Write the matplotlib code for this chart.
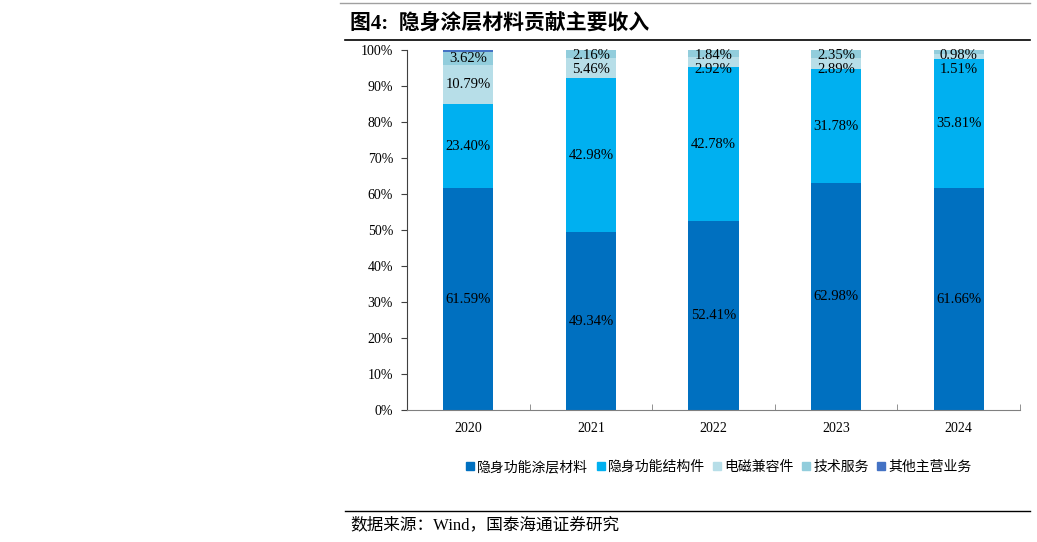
import matplotlib
matplotlib.use("Agg")
import matplotlib.pyplot as plt
from matplotlib.lines import Line2D
import numpy as np

# Data (share of revenue, %)
years = ["2020", "2021", "2022", "2023", "2024"]
series_names = ["隐身功能涂层材料", "隐身功能结构件", "电磁兼容件", "技术服务", "其他主营业务"]
coating = [61.59, 49.34, 52.41, 62.98, 61.66]
structure = [23.40, 42.98, 42.78, 31.78, 35.81]
emc_parts = [10.79, 5.46, 2.92, 2.89, 1.51]
tech_service = [3.62, 2.16, 1.84, 2.35, 0.98]
other = [0.60, 0.06, 0.05, 0.00, 0.04]
y_ticks = [0, 10, 20, 30, 40, 50, 60, 70, 80, 90, 100]

colors = ["#0070C0", "#00B0F0", "#B7DEE8", "#92CDDC", "#4472C4"]
serif = ["Liberation Serif", "Noto Sans CJK SC"]
cjk = ["Noto Sans CJK SC", "DejaVu Sans"]

fig = plt.figure(figsize=(10.37, 5.42), dpi=100)
ax = fig.add_axes([407 / 1037, 132 / 542, 613 / 1037, 360 / 542])

x = np.arange(len(years))
stack = [coating, structure, emc_parts, tech_service, other]
bottom = np.zeros(len(years))
label_pos = []
for vals, col in zip(stack, colors):
    vals = np.array(vals)
    ax.bar(x, vals, 0.41, bottom=bottom, color=col, edgecolor="none", zorder=2)
    label_pos.append(bottom + vals / 2)
    bottom = bottom + vals

# data labels for the first four series; small top labels get pushed down so they stay readable
gap = 4.0
for i in range(len(years)):
    prev = 98.6 + gap
    ys = {}
    for s in [3, 2, 1, 0]:
        y = min(label_pos[s][i], 98.6, prev - gap) if s >= 2 else label_pos[s][i]
        ys[s] = y
        prev = y
    for s in range(4):
        ax.text(x[i], ys[s], f"{stack[s][i]:.2f}%", ha="center", va="center",
                fontsize=10.5, family=serif, color="black", zorder=3)

ax.set_xlim(-0.5, len(years) - 0.5)
ax.set_ylim(0, 100)
ax.set_yticks(y_ticks)
ax.set_yticklabels([f"{v}%" for v in y_ticks], family=serif, fontsize=10)
ax.set_xticks(x)
ax.set_xticklabels(years, family=serif, fontsize=10)
ax.set_xticks(np.arange(-0.5, len(years)), minor=True)
ax.tick_params(axis="x", which="major", length=0, pad=9)
ax.tick_params(axis="x", which="minor", direction="in", length=4, color="#808080")
ax.tick_params(axis="y", direction="out", length=4, color="#404040", pad=6)
for side in ["top", "right"]:
    ax.spines[side].set_visible(False)
ax.spines["left"].set_color("#404040")
ax.spines["bottom"].set_color("#808080")

handles = [Line2D([0], [0], marker="s", linestyle="none", markersize=6,
                  markerfacecolor=c, markeredgecolor=c) for c in colors]
fig.legend(handles, series_names, loc="center", bbox_to_anchor=(718 / 1037, 1 - 467 / 542),
           ncol=5, frameon=False, prop={"family": cjk, "size": 10},
           handletextpad=0.1, columnspacing=0.5, handlelength=0.8)

# title, rules and source line
fig.text(350 / 1037, 1 - 24 / 542, "图4:  隐身涂层材料贡献主要收入", family=serif,
         fontsize=15, fontweight="bold", va="center", ha="left")
fig.add_artist(Line2D([345 / 1037, 1030 / 1037], [1 - 40 / 542] * 2, color="black", lw=1.2))
fig.add_artist(Line2D([340 / 1037, 1030 / 1037], [1 - 3 / 542] * 2, color="#a0a0a0", lw=1.0))
fig.add_artist(Line2D([345 / 1037, 1030 / 1037], [1 - 511 / 542] * 2, color="black", lw=1.0))
fig.text(350 / 1037, 1 - 525 / 542, "数据来源：Wind，国泰海通证券研究", family=serif,
         fontsize=12, va="center", ha="left")

fig.savefig("out.png", dpi=100)
